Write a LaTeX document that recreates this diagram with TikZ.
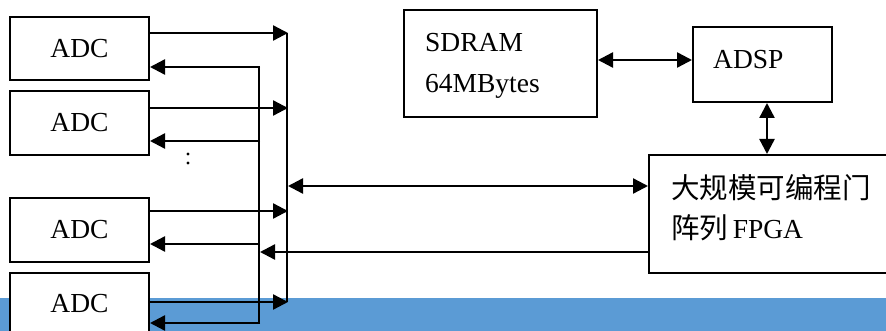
\documentclass[tikz,border=0pt]{standalone}
\usepackage{fontspec}
\setmainfont{Liberation Serif}
\newfontfamily\cjk{Noto Sans CJK SC}
\usetikzlibrary{arrows.meta}
\definecolor{bandblue}{HTML}{5B9BD5}
\tikzset{
  box/.style={draw=black, line width=2.2pt, fill=white, inner sep=0pt},
  lbl/.style={inner sep=0pt, anchor=base west, font=\fontsize{27.5}{27.5}\selectfont},
  clbl/.style={inner sep=0pt, font=\fontsize{27.5}{27.5}\selectfont},
  zh/.style={font=\cjk\fontsize{28.5}{28.5}\selectfont},
  wire/.style={line width=2.4pt},
  tip/.style={-{Triangle[length=15pt,width=15pt]}},
  twotip/.style={{Triangle[length=15pt,width=15pt]}-{Triangle[length=15pt,width=15pt]}},
}
\begin{document}
\begin{tikzpicture}[x=1pt,y=-1pt]
\clip (0,0) rectangle (886,331);
\useasboundingbox (0,0) rectangle (886,331);
% background band along the bottom
\fill[bandblue] (0,298) rectangle (886,331);

% ADC boxes
\draw[box] (10,17) rectangle (149,80);
\node[clbl] (adc1) at (79.5,48.5) {ADC};
\draw[box] (10,91) rectangle (149,155);
\node[clbl] (adc2) at (79.5,123) {ADC};
\draw[box] (10,198) rectangle (149,262);
\node[clbl] (adc3) at (79.5,230) {ADC};
\draw[box] (10,273) rectangle (149,340);
\node[clbl] (adc4) at (79.5,304) {ADC};

% vertical dots between ADC channels
\fill (188,154) circle (1.6);
\fill (188,163) circle (1.6);

% the two bus lines
\coordinate (outT) at (287,33);
\coordinate (outB) at (287,302);
\coordinate (inT) at (259,67);
\coordinate (inB) at (259,323);
\draw[wire] (outT) -- (outB);
\draw[wire] (inT) -- (inB);

% ADC outputs onto the outer bus
\foreach \y in {33,108,211,302}{
  \coordinate (a\y) at (150,\y);
  \coordinate (b\y) at (288,\y);
  \draw[wire,tip] (a\y) -- (b\y);
}
% inner bus back to the ADC inputs
\foreach \y in {67,141,244,323}{
  \coordinate (c\y) at (260,\y);
  \coordinate (d\y) at (150,\y);
  \draw[wire,tip] (c\y) -- (d\y);
}

% SDRAM
\draw[box] (404,10) rectangle (597,117);
\node[lbl] (sd1) at (425,52) {SDRAM};
\node[lbl] (sd2) at (425,93) {64MBytes};

% ADSP
\draw[box] (693,27) rectangle (832,102);
\node[lbl] (adsp) at (713,69) {ADSP};

% FPGA
\draw[box] (649,155) rectangle (900,273);
\node[lbl,zh] (fp1) at (671,199) {大规模可编程门};
\node[lbl] (fp2) at (671,239) {{\cjk\fontsize{28.5}{28.5}\selectfont 阵列}\,FPGA};

% connections between SDRAM, ADSP and FPGA
\coordinate (sdR) at (598,60);
\coordinate (adL) at (692,60);
\draw[wire,twotip] (sdR) -- (adL);
\coordinate (adB) at (767,103);
\coordinate (fpT) at (767,154);
\draw[wire,twotip] (adB) -- (fpT);

% FPGA to the buses
\coordinate (busA) at (288,186);
\coordinate (fpA) at (648,186);
\draw[wire,twotip] (busA) -- (fpA);
\coordinate (fpB) at (649,252);
\coordinate (busB) at (260,252);
\draw[wire,tip] (fpB) -- (busB);
\end{tikzpicture}
\end{document}
